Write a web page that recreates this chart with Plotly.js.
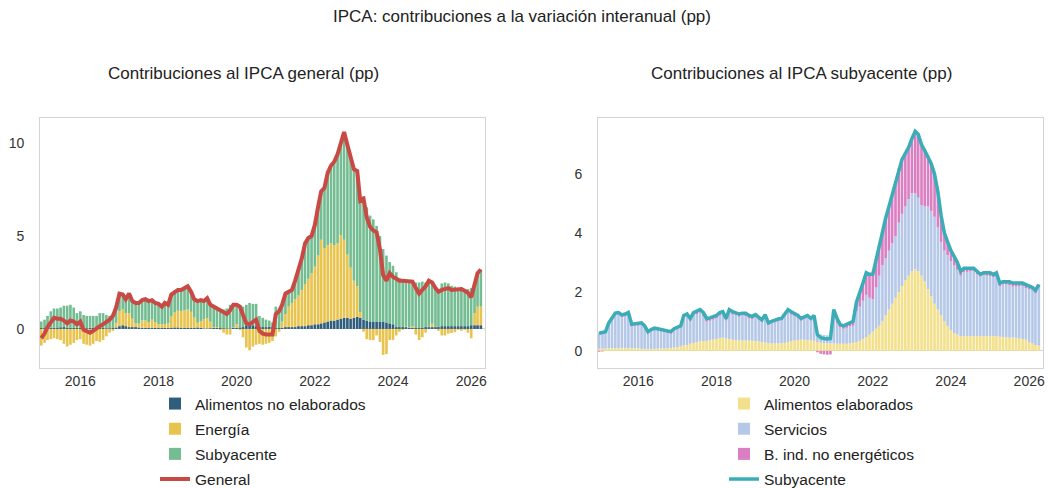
<!DOCTYPE html>
<html>
<head>
<meta charset="utf-8">
<script src="https://cdn.plot.ly/plotly-3.0.1.min.js"></script>
<style>
  body { margin: 0; background: #fff; }
  #chart { width: 1048px; height: 488px; }
</style>
</head>
<body>
<div id="chart"></div>
<script>
// months from 2015-01 to 2026-04
var firstYear = 2015;
var nMonths = 136;
var months = [];
for (var i = 0; i < nMonths; i++) {
  var y = firstYear + Math.floor(i / 12);
  var m = (i % 12) + 1;
  months.push(y + "-" + (m < 10 ? "0" + m : m) + "-01");
}

// left panel: contributions to headline HICP (pp)
var alimNoElab = [0.05,0.05,0.06,0.06,0.07,0.08,0.09,0.1,0.08,0.07,0.06,0.05,
  0.06,0.03,0.04,0.06,0.07,0.07,0.06,0.05,0.04,0.04,0.05,0.08,
  0.15,0.2,0.15,0.1,0.1,0.1,0.08,0.06,0.06,0.05,0.05,0.06,
  0.05,0.05,0.06,0.05,0.07,0.08,0.08,0.06,0.05,0.06,0.07,0.06,
  0.08,0.06,0.03,0.03,0.04,0.05,0.05,0.05,0.04,0.03,0.03,0.05,
  0.06,0.08,0.1,0.2,0.25,0.2,0.15,0.12,0.1,0.1,0.12,0.1,
  0.05,0.05,0.05,0.1,0.1,0.1,0.1,0.15,0.15,0.15,0.2,0.2,
  0.25,0.25,0.3,0.35,0.4,0.45,0.45,0.5,0.55,0.6,0.6,0.55,
  0.6,0.65,0.6,0.5,0.45,0.4,0.4,0.4,0.4,0.4,0.35,0.3,
  0.25,0.1,0.1,0.1,0.1,0.05,0.05,0.05,0.05,0.05,0.1,0.1,
  0.1,0.1,0.1,0.15,0.15,0.15,0.15,0.15,0.15,0.15,0.15,0.15,
  0.2,0.2,0.2,0.2];

var energia = [-0.9,-0.75,-0.6,-0.55,-0.5,-0.55,-0.6,-0.8,-0.95,-0.85,-0.75,-0.6,
  -0.55,-0.8,-0.85,-0.9,-0.8,-0.65,-0.7,-0.6,-0.4,-0.2,-0.1,0.25,
  0.8,0.85,0.7,0.75,0.45,0.2,0.2,0.4,0.4,0.3,0.45,0.3,
  0.2,0.2,0.2,0.25,0.6,0.8,0.9,0.9,0.95,1.0,0.85,0.55,
  0.25,0.35,0.5,0.55,0.35,0.05,0.05,-0.05,-0.2,-0.3,-0.3,0.02,
  0.2,-0.05,-0.45,-1.0,-1.15,-0.95,-0.85,-0.8,-0.85,-0.8,-0.75,-0.65,
  -0.4,-0.15,0.35,0.7,1.1,1.3,1.5,1.65,1.95,2.25,2.5,2.8,
  3.1,3.7,4.5,4.0,4.1,4.15,4.05,4.1,4.5,4.2,3.4,2.75,
  2.0,1.65,0.3,-0.15,-0.55,-0.6,-0.6,-0.35,-0.7,-1.4,-1.35,-0.6,
  -0.6,-0.35,-0.15,-0.05,0.03,0.02,0.1,-0.3,-0.6,-0.45,-0.2,0.02,
  0.18,0.02,-0.1,-0.35,-0.35,-0.25,-0.22,-0.18,-0.05,-0.1,-0.05,-0.2,
  -0.5,0.65,1.0,1.0];

var subyacenteContrib = [0.35,0.45,0.64,0.89,1.03,1.02,1.06,1.15,1.17,1.23,1.09,0.8,
  0.89,0.72,0.66,0.64,0.63,0.63,0.79,0.8,0.71,0.66,0.75,0.82,
  0.95,0.8,0.75,1.05,0.95,1.1,1.12,1.09,1.14,1.15,1.05,1.04,
  1.1,0.95,1.14,1.0,1.18,1.12,1.12,1.14,1.2,1.24,1.08,0.99,
  1.17,1.14,0.97,1.07,0.91,1.1,0.95,1.0,1.01,1.07,1.27,1.23,
  1.04,1.17,1.1,1.1,1.15,1.15,1.2,0.58,0.5,0.4,0.33,0.25,
  1.15,1.05,0.9,1.1,0.8,0.7,1.0,1.4,1.7,2.2,2.2,2.0,
  2.25,2.65,2.6,3.25,3.9,4.2,4.5,4.8,4.95,5.8,5.9,5.9,
  6.0,6.2,6.0,6.65,6.1,5.7,5.5,5.15,4.6,3.9,3.6,3.3,
  3.15,2.95,2.65,2.55,2.47,2.53,2.4,2.45,2.45,2.5,2.4,2.48,
  2.22,2.08,2.0,2.3,2.35,2.3,2.17,2.13,2.0,2.1,1.95,2.0,
  2.0,1.45,1.8,2.0];

var general = [-0.5,-0.25,0.1,0.4,0.6,0.55,0.55,0.45,0.3,0.45,0.4,0.25,
  0.4,-0.05,-0.15,-0.2,-0.1,0.05,0.15,0.25,0.35,0.5,0.7,1.15,
  1.9,1.85,1.6,1.9,1.5,1.4,1.4,1.55,1.6,1.5,1.55,1.4,
  1.35,1.2,1.4,1.3,1.85,2.0,2.1,2.1,2.2,2.3,2.0,1.6,
  1.5,1.55,1.5,1.65,1.3,1.2,1.05,1.0,0.85,0.8,1.0,1.3,
  1.3,1.2,0.75,0.3,0.25,0.4,0.5,-0.1,-0.25,-0.3,-0.3,-0.3,
  0.8,0.95,1.3,1.9,2.0,2.1,2.6,3.2,3.8,4.6,4.9,5.0,
  5.6,6.6,7.4,7.6,8.4,8.8,9.0,9.4,10.0,10.6,9.9,9.2,
  8.6,8.5,6.9,7.0,6.0,5.5,5.3,5.2,4.3,2.9,2.6,3.0,
  2.8,2.7,2.6,2.6,2.6,2.6,2.55,2.2,1.9,2.1,2.3,2.6,
  2.5,2.2,2.0,2.1,2.15,2.2,2.1,2.1,2.1,2.15,2.05,1.95,
  1.7,2.3,3.0,3.2];

// right panel: contributions to core HICP (pp)
var alimElab = [0.07,0.07,0.08,0.08,0.09,0.09,0.1,0.1,0.1,0.09,0.09,0.09,
  0.08,0.07,0.07,0.06,0.06,0.07,0.07,0.08,0.08,0.09,0.1,0.11,
  0.13,0.15,0.18,0.2,0.24,0.27,0.3,0.32,0.33,0.34,0.36,0.38,
  0.4,0.43,0.45,0.42,0.4,0.38,0.36,0.36,0.35,0.35,0.35,0.34,
  0.33,0.32,0.3,0.28,0.27,0.25,0.25,0.25,0.26,0.27,0.3,0.33,
  0.35,0.37,0.38,0.38,0.37,0.36,0.34,0.3,0.28,0.26,0.25,0.25,
  0.25,0.24,0.24,0.24,0.24,0.25,0.27,0.3,0.34,0.4,0.47,0.55,
  0.65,0.75,0.85,1.0,1.2,1.4,1.6,1.8,2.0,2.2,2.4,2.55,
  2.7,2.78,2.7,2.55,2.35,2.1,1.85,1.6,1.4,1.2,1.0,0.85,
  0.7,0.6,0.55,0.5,0.5,0.5,0.5,0.5,0.5,0.5,0.5,0.5,
  0.5,0.5,0.5,0.48,0.47,0.46,0.45,0.45,0.44,0.42,0.4,0.38,
  0.3,0.25,0.2,0.18];

var servicios = [0.56,0.57,0.57,0.84,0.96,1.14,1.14,1.04,1.07,1.13,0.74,0.76,
  0.77,0.80,0.72,0.54,0.60,0.64,0.62,0.58,0.56,0.52,0.48,0.57,
  0.60,0.64,0.96,0.98,0.79,0.96,0.95,0.98,0.85,0.65,0.66,0.68,
  0.70,0.77,0.82,0.61,0.92,0.85,0.86,0.80,0.85,0.83,0.75,0.73,
  0.82,0.73,0.70,0.90,0.61,0.68,0.72,0.75,0.78,0.91,1.00,0.90,
  0.83,0.73,0.64,0.70,0.77,0.68,0.66,0.30,0.27,0.28,0.28,0.29,
  0.90,0.71,0.56,0.51,0.54,0.58,0.58,1.05,1.16,1.30,1.43,1.25,
  1.10,1.40,1.70,1.90,1.95,2.00,2.05,2.10,2.35,2.45,2.50,2.60,
  2.65,2.57,2.50,2.40,2.55,2.80,2.90,2.95,2.80,2.50,2.40,2.40,
  2.35,2.30,2.20,2.05,2.18,2.18,2.20,2.20,2.10,2.02,2.07,2.05,
  2.03,2.00,2.05,1.72,1.78,1.79,1.78,1.73,1.74,1.78,1.80,1.75,
  1.80,1.80,1.77,1.97];

var bienesInd = [-0.03,-0.02,0,0.03,0.05,0.05,0.06,0.08,0.08,0.08,0.07,0.07,
  0.1,0.08,0.06,0.05,0.06,0.06,0.06,0.06,0.06,0.07,0.07,0.07,
  0.07,0.06,0.06,0.07,0.07,0.07,0.1,0.1,0.12,0.11,0.1,0.11,
  0.1,0.1,0.06,0.07,0.08,0.1,0.08,0.09,0.08,0.1,0.1,0.1,
  0.08,0.1,0.05,0.05,0.07,0.07,0.08,0.08,0.06,0.07,0.1,0.1,
  0.1,0.1,0.08,0.07,0.06,0.06,0.2,-0.05,-0.1,-0.12,-0.13,-0.12,
  0.25,0.15,0.1,0.1,0.12,0.12,0.15,0.3,0.45,0.6,0.75,0.8,
  0.85,0.95,1.05,1.2,1.35,1.5,1.65,1.8,1.85,1.85,1.8,1.75,
  1.85,2.1,2.15,2.05,1.9,1.7,1.6,1.45,1.2,0.9,0.6,0.45,
  0.35,0.3,0.25,0.15,0.12,0.12,0.1,0.1,0.1,0.08,0.08,0.1,
  0.12,0.1,0.1,0.1,0.1,0.1,0.12,0.12,0.12,0.1,0.1,0.12,
  0.1,0.1,0.08,0.1];

var subyacente = [0.6,0.62,0.65,0.95,1.1,1.28,1.3,1.22,1.25,1.3,0.9,0.92,
  0.95,0.95,0.85,0.65,0.72,0.77,0.75,0.72,0.7,0.68,0.65,0.75,
  0.8,0.85,1.2,1.25,1.1,1.3,1.35,1.4,1.3,1.1,1.12,1.17,
  1.2,1.3,1.33,1.1,1.4,1.33,1.3,1.25,1.28,1.28,1.2,1.17,
  1.23,1.15,1.05,1.23,0.95,1.0,1.05,1.08,1.1,1.25,1.4,1.33,
  1.28,1.2,1.1,1.15,1.2,1.1,1.2,0.55,0.45,0.42,0.4,0.42,
  1.4,1.1,0.9,0.85,0.9,0.95,1.0,1.65,1.95,2.3,2.65,2.6,
  2.6,3.1,3.6,4.1,4.5,4.9,5.3,5.7,6.2,6.5,6.7,6.9,
  7.2,7.45,7.35,7.0,6.8,6.6,6.35,6.0,5.4,4.6,4.0,3.7,
  3.4,3.2,3.0,2.7,2.8,2.8,2.8,2.8,2.7,2.6,2.65,2.65,
  2.65,2.6,2.65,2.3,2.35,2.35,2.35,2.3,2.3,2.3,2.3,2.25,
  2.2,2.15,2.05,2.25];

var yearTicks = ["2016-01-01","2018-01-01","2020-01-01","2022-01-01","2024-01-01","2026-01-01"];
var yearLabels = ["2016","2018","2020","2022","2024","2026"];

function barTrace(name, y, color, xa, ya, leg) {
  return {
    type: "bar", name: name, x: months, y: y,
    xaxis: xa, yaxis: ya, legend: leg, legendgroup: name,
    marker: { color: color, line: { width: 0 } },
    hoverinfo: "skip"
  };
}
function lineTrace(name, y, color, width, xa, ya, leg) {
  return {
    type: "scatter", mode: "lines", name: name, x: months, y: y,
    xaxis: xa, yaxis: ya, legend: leg, legendgroup: name,
    line: { color: color, width: width },
    hoverinfo: "skip"
  };
}

var data = [
  barTrace("Alimentos no elaborados", alimNoElab, "#2e5d7d", "x", "y", "legend"),
  barTrace("Energía", energia, "#e8c34d", "x", "y", "legend"),
  barTrace("Subyacente", subyacenteContrib, "#74bc91", "x", "y", "legend"),
  lineTrace("General", general, "#c94a44", 4, "x", "y", "legend"),
  barTrace("Alimentos elaborados", alimElab, "#f3e08c", "x2", "y2", "legend2"),
  barTrace("Servicios", servicios, "#b6c8e8", "x2", "y2", "legend2"),
  barTrace("B. ind. no energéticos", bienesInd, "#da7fc2", "x2", "y2", "legend2"),
  lineTrace("Subyacente", subyacente, "#3badb6", 3.5, "x2", "y2", "legend2")
];

var fontFam = "Liberation Sans, Arial, sans-serif";
var tickFont = { family: fontFam, size: 14, color: "#333" };
var xRange = ["2014-12-21", "2026-05-10"];

function xAxis(domain, anchor) {
  return {
    domain: domain, anchor: anchor, type: "date", range: xRange,
    tickmode: "array", tickvals: yearTicks, ticktext: yearLabels,
    showgrid: false, zeroline: false, ticks: "",
    showline: true, mirror: true, linecolor: "#d4d4d4", linewidth: 1,
    tickfont: tickFont, ticklabelstandoff: 0
  };
}
function yAxis(range, ticks, anchor) {
  return {
    domain: [0.246, 0.758], anchor: anchor, range: range,
    tickmode: "array", tickvals: ticks,
    showgrid: false, zeroline: true, zerolinecolor: "#cfd4da", zerolinewidth: 1,
    ticks: "", showline: true, mirror: true, linecolor: "#d4d4d4", linewidth: 1,
    tickfont: tickFont, ticklabelstandoff: 12
  };
}

var legendFont = { family: fontFam, size: 15.5, color: "#222" };
var titleFont = { family: fontFam, size: 17, color: "#222" };

var layout = {
  width: 1048, height: 488,
  margin: { l: 0, r: 0, t: 0, b: 0, autoexpand: false },
  paper_bgcolor: "#fff", plot_bgcolor: "#fff",
  barmode: "relative", bargap: 0.12,
  showlegend: true,
  font: { family: fontFam },
  xaxis: xAxis([0.0382, 0.4628], "y"),
  yaxis: yAxis([-2.1, 11.35], [0, 5, 10], "x"),
  xaxis2: xAxis([0.5706, 0.9952], "y2"),
  yaxis2: yAxis([-0.58, 7.9], [0, 2, 4, 6], "x2"),
  legend: {
    x: 155 / 1048, y: 1 - 387 / 488, xanchor: "left", yanchor: "top",
    traceorder: "grouped", tracegroupgap: 2, font: legendFont,
    bgcolor: "rgba(0,0,0,0)"
  },
  legend2: {
    x: 724 / 1048, y: 1 - 387 / 488, xanchor: "left", yanchor: "top",
    traceorder: "grouped", tracegroupgap: 2, font: legendFont,
    bgcolor: "rgba(0,0,0,0)"
  },
  annotations: [
    { text: "IPCA: contribuciones a la variación interanual (pp)", xref: "paper", yref: "paper",
      x: 522 / 1048, y: 1 - 16 / 488, xanchor: "center", yanchor: "middle", showarrow: false,
      font: titleFont },
    { text: "Contribuciones al IPCA general (pp)", xref: "paper", yref: "paper",
      x: 243 / 1048, y: 1 - 73 / 488, xanchor: "center", yanchor: "middle", showarrow: false,
      font: titleFont },
    { text: "Contribuciones al IPCA subyacente (pp)", xref: "paper", yref: "paper",
      x: 801 / 1048, y: 1 - 73 / 488, xanchor: "center", yanchor: "middle", showarrow: false,
      font: titleFont }
  ]
};

Plotly.newPlot("chart", data, layout, { displayModeBar: false, staticPlot: true });
</script>
</body>
</html>
